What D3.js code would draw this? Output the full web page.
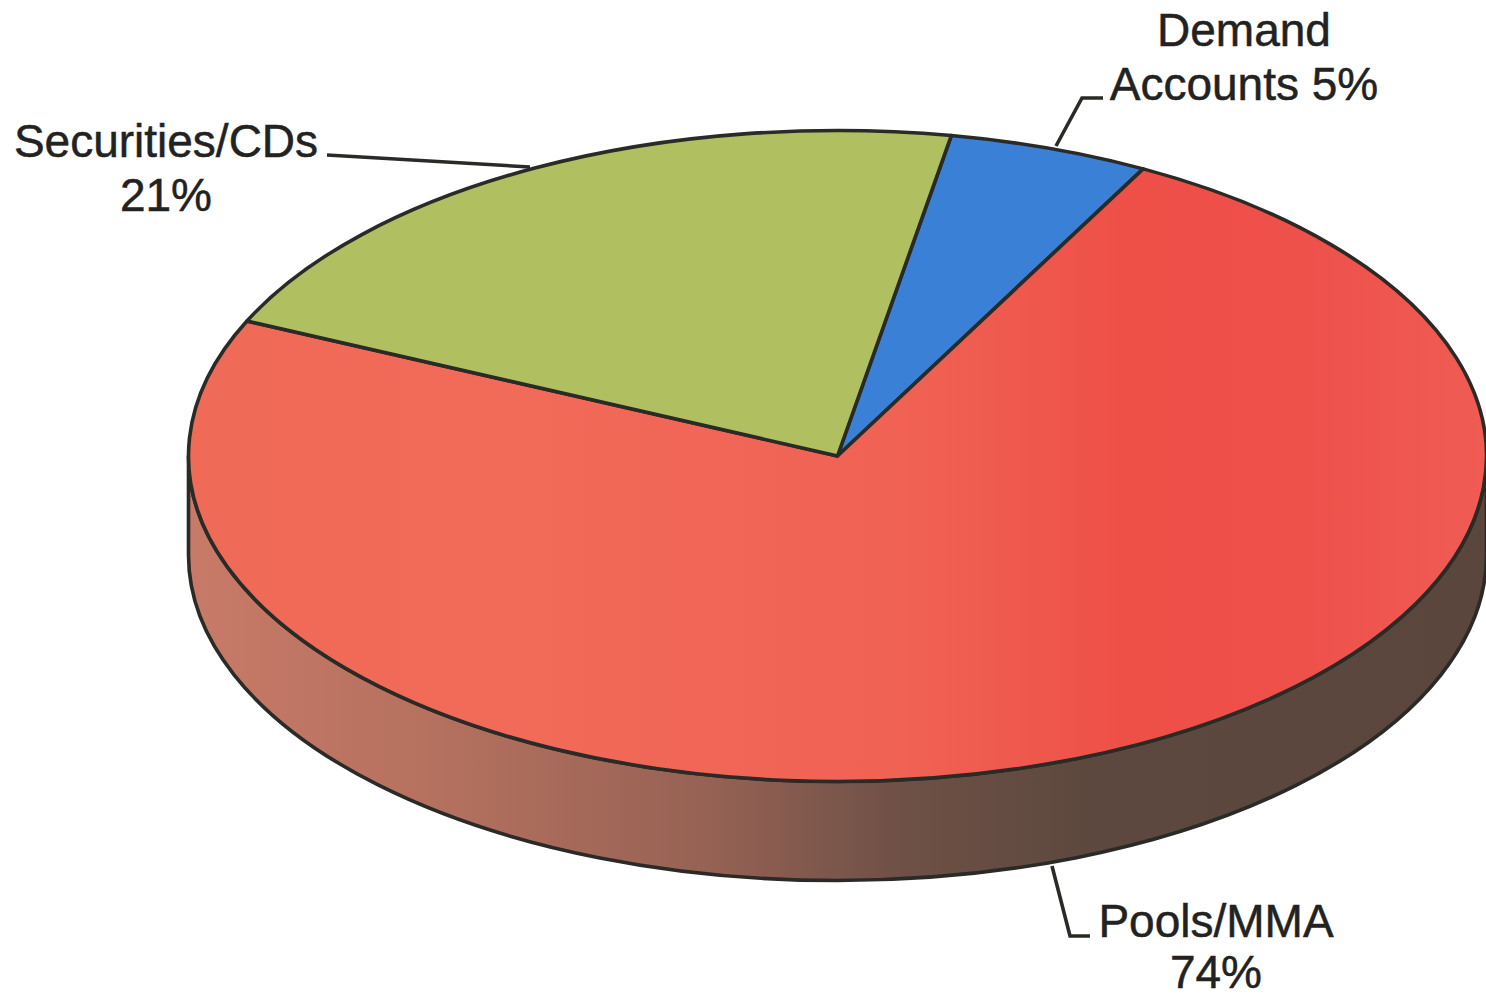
<!DOCTYPE html>
<html><head><meta charset="utf-8">
<script src="https://cdn.jsdelivr.net/npm/d3@7"></script>
<style>html,body{margin:0;padding:0;background:#fff;overflow:hidden}svg{display:block}</style>
</head><body><script>
const categories = ["Demand Accounts", "Pools/MMA", "Securities/CDs"];
const shares = [5, 74, 21];
const labelLines = [["Demand", "Accounts 5%"], ["Pools/MMA", "74%"], ["Securities/CDs", "21%"]];
const sliceFills = ["#3a80d6", "url(#redGrad)", "#b0c060"];

const W = 1486, H = 998, cx = 837.5, cy = 456, rx = 649, ry = 325.5, depth = 99;
const startAngle = 10.1 * Math.PI / 180;
const ink = "#2a2a26";

const svg = d3.select("body").append("svg").attr("width", W).attr("height", H);
const defs = svg.append("defs");
function grad(id, x0, x1, stops) {
  const g = defs.append("linearGradient").attr("id", id)
    .attr("gradientUnits", "userSpaceOnUse")
    .attr("x1", x0).attr("x2", x1).attr("y1", 0).attr("y2", 0);
  stops.forEach(s => g.append("stop").attr("offset", s[0]).attr("stop-color", s[1]));
}
grad("redGrad", -rx, rx, [[0, "#f06a58"], [0.25, "#f26a58"], [0.55, "#f06254"], [0.72, "#ee5048"], [0.85, "#ee504a"], [1, "#ef5c54"]]);
grad("sideGrad", cx - rx, cx + rx, [[0, "#c87a68"], [0.2, "#b4705e"], [0.4, "#966254"], [0.55, "#6e5046"], [0.7, "#5c483e"], [1, "#5a463c"]]);

// side wall: lower half of the ellipse, extruded downward
const sideD = `M${cx - rx},${cy} L${cx - rx},${cy + depth} A${rx},${ry} 0 0 0 ${cx + rx},${cy + depth} L${cx + rx},${cy} A${rx},${ry} 0 0 1 ${cx - rx},${cy} Z`;
svg.append("path").attr("d", sideD)
  .attr("fill", "url(#sideGrad)").attr("stroke", ink).attr("stroke-width", 3.6).attr("stroke-linejoin", "round");

// top face
const pie = d3.pie().sort(null).startAngle(startAngle).endAngle(startAngle + 2 * Math.PI);
const arc = d3.arc().innerRadius(0).outerRadius(rx);
const face = svg.append("g").attr("transform", `translate(${cx},${cy}) scale(1,${ry / rx})`);
face.selectAll("path").data(pie(shares)).join("path")
  .attr("d", arc)
  .attr("fill", (d, i) => sliceFills[i])
  .attr("stroke", ink).attr("stroke-width", 3.6).attr("stroke-linejoin", "round")
  .attr("vector-effect", "non-scaling-stroke");

// leaders
const leaders = [
  [[1056, 146], [1082, 98], [1103, 98]],
  [[1052, 866], [1070, 936], [1090, 936]],
  [[327, 155], [530, 167]]
];
const line = d3.line();
svg.append("g").selectAll("path").data(leaders).join("path")
  .attr("d", line).attr("fill", "none").attr("stroke", ink).attr("stroke-width", 3.6);

// labels
const labelPos = [[1244, 46, 1244, 100], [1216, 937, 1216, 988], [166, 157, 166, 211]];
const lab = svg.append("g").attr("font-family", "'Liberation Sans',Arial,sans-serif")
  .attr("font-size", 46).attr("fill", "#222").attr("stroke", "#222").attr("stroke-width", 0.5).attr("text-anchor", "middle");
labelLines.forEach((ls, i) => {
  const p = labelPos[i];
  lab.append("text").attr("x", p[0]).attr("y", p[1]).text(ls[0]);
  lab.append("text").attr("x", p[2]).attr("y", p[3]).text(ls[1]);
});
</script></body></html>
